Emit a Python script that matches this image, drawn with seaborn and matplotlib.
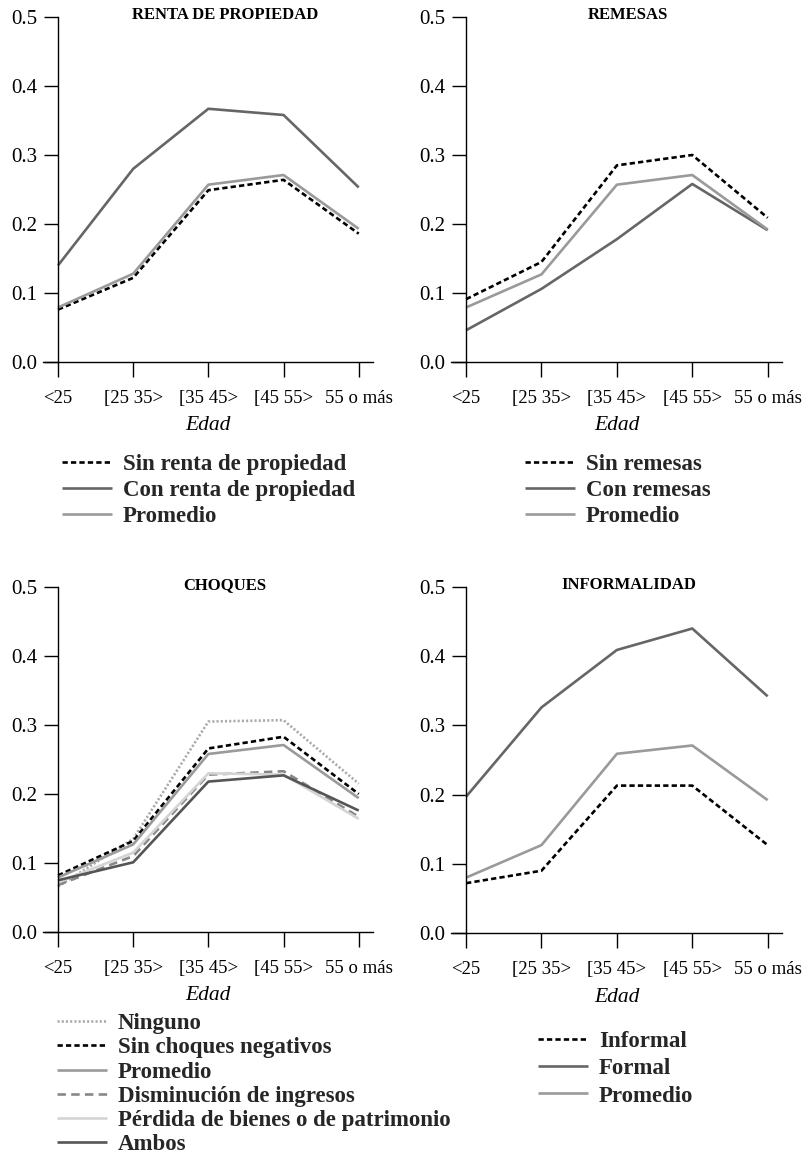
import matplotlib
matplotlib.use("Agg")
import matplotlib.pyplot as plt
import seaborn as sns
import pandas as pd

sns.set_theme(style="white")
plt.rcParams['font.family'] = ['Liberation Serif', 'DejaVu Serif']

edades = ["<25", "[25 35>", "[35 45>", "[45 55>", "55 o más"]
yticks = [0.0, 0.1, 0.2, 0.3, 0.4, 0.5]

# Panel 1: renta de propiedad
renta_sin = [0.076, 0.122, 0.249, 0.264, 0.186]
renta_con = [0.140, 0.280, 0.367, 0.358, 0.253]
renta_prom = [0.079, 0.128, 0.257, 0.271, 0.193]

# Panel 2: remesas
rem_sin = [0.091, 0.145, 0.285, 0.300, 0.209]
rem_con = [0.046, 0.106, 0.178, 0.258, 0.191]
rem_prom = [0.079, 0.127, 0.257, 0.271, 0.192]

# Panel 3: choques
ch_ninguno = [0.066, 0.135, 0.305, 0.307, 0.215]
ch_sin = [0.082, 0.132, 0.266, 0.283, 0.200]
ch_prom = [0.079, 0.127, 0.258, 0.271, 0.194]
ch_dism = [0.068, 0.110, 0.228, 0.233, 0.167]
ch_perd = [0.072, 0.115, 0.230, 0.228, 0.164]
ch_ambos = [0.075, 0.101, 0.218, 0.227, 0.176]

# Panel 4: informalidad
inf_inf = [0.072, 0.090, 0.213, 0.213, 0.127]
inf_for = [0.197, 0.326, 0.409, 0.440, 0.342]
inf_prom = [0.080, 0.127, 0.259, 0.271, 0.192]

LW = 1.9
BLACK_DASH = dict(color="black", dashes=(2.0, 1.2))
DARK = dict(color="#666666")
PROM = dict(color="#9a9a9a")

panels = [
    dict(title="RENTA DE PROPIEDAD", tx=0.552,
         series=[("Sin renta de propiedad", renta_sin, BLACK_DASH),
                 ("Con renta de propiedad", renta_con, DARK),
                 ("Promedio", renta_prom, PROM)]),
    dict(title="REMESAS", tx=0.535,
         series=[("Sin remesas", rem_sin, BLACK_DASH),
                 ("Con remesas", rem_con, DARK),
                 ("Promedio", rem_prom, PROM)]),
    dict(title="CHOQUES", tx=0.552,
         series=[("Ninguno", ch_ninguno, dict(color="#aaaaaa", dashes=(0.8, 0.8))),
                 ("Sin choques negativos", ch_sin, BLACK_DASH),
                 ("Promedio", ch_prom, PROM),
                 ("Disminución de ingresos", ch_dism, dict(color="#888888", dashes=(3.2, 2.0))),
                 ("Pérdida de bienes o de patrimonio", ch_perd, dict(color="#d4d4d4")),
                 ("Ambos", ch_ambos, dict(color="#555555"))]),
    dict(title="INFORMALIDAD", tx=0.537,
         series=[("Informal", inf_inf, BLACK_DASH),
                 ("Formal", inf_for, DARK),
                 ("Promedio", inf_prom, PROM)]),
]

W, H = 810, 1154
fig = plt.figure(figsize=(W / 100, H / 100), dpi=100)

# axes boxes in pixels: (left, top, right, bottom)
boxes = [(43, 17, 373, 362), (451, 17, 782, 362),
         (43, 587, 373, 932), (451, 587, 782, 933)]
# legend anchor in pixels (left of handle, top)
leg_pos = [(62, 454), (525, 454), (57, 1013), (538, 1031)]
leg_spacing = [0.22, 0.22, 0.14, 0.27]

for p, box, lp, ls in zip(panels, boxes, leg_pos, leg_spacing):
    l, t, r, b = box
    ax = fig.add_axes([l / W, 1 - b / H, (r - l) / W, (b - t) / H])
    handles = []
    for name, vals, st in p["series"]:
        df = pd.DataFrame({"Edad": edades, "valor": vals})
        sns.lineplot(data=df, x="Edad", y="valor", ax=ax, sort=False,
                     color=st["color"], linewidth=LW, legend=False)
        line = ax.lines[-1]
        if "dashes" in st:
            line.set_dashes(st["dashes"])
        line.set_solid_capstyle("butt")
        line.set_dash_capstyle("butt")
        line.set_label(name)
        handles.append(line)
    if ax.get_legend() is not None:
        ax.get_legend().remove()
    ax.set_xlim(-0.2, 4.19)
    ax.set_ylim(0, 0.5)
    ax.set_yticks(yticks)
    ax.set_yticklabels([f"{v:.1f}" for v in yticks])
    ax.set_xticks(range(len(edades)))
    ax.set_xticklabels(edades)
    sns.despine(ax=ax)
    ax.spines["left"].set_position(("data", 0))
    for s in ("left", "bottom"):
        ax.spines[s].set_color("black")
        ax.spines[s].set_linewidth(1.0)
    ax.tick_params(axis="y", direction="out", length=10, width=1.0, pad=5,
                   labelsize=15, colors="black", left=True)
    ax.tick_params(axis="x", direction="out", length=10.5, width=1.0, pad=9.5,
                   labelsize=13.5, colors="black", bottom=True)
    ax.set_ylabel("")
    ax.set_xlabel("Edad", fontsize=15.5, fontstyle="italic", labelpad=7, color="black")
    ax.text(p["tx"], 0.995, p["title"], transform=ax.transAxes, ha="center",
            va="baseline", fontsize=12, fontweight="bold", color="black")
    fig.legend(handles=handles, labels=[h.get_label() for h in handles],
               loc="upper left", bbox_to_anchor=(lp[0] / W, 1 - lp[1] / H),
               bbox_transform=fig.transFigure, frameon=False,
               borderpad=0, borderaxespad=0, handlelength=2.2,
               handletextpad=0.45, labelspacing=ls,
               prop=dict(family="Liberation Serif", weight="bold", size=16.5))

fig.savefig("out.png", dpi=100)
